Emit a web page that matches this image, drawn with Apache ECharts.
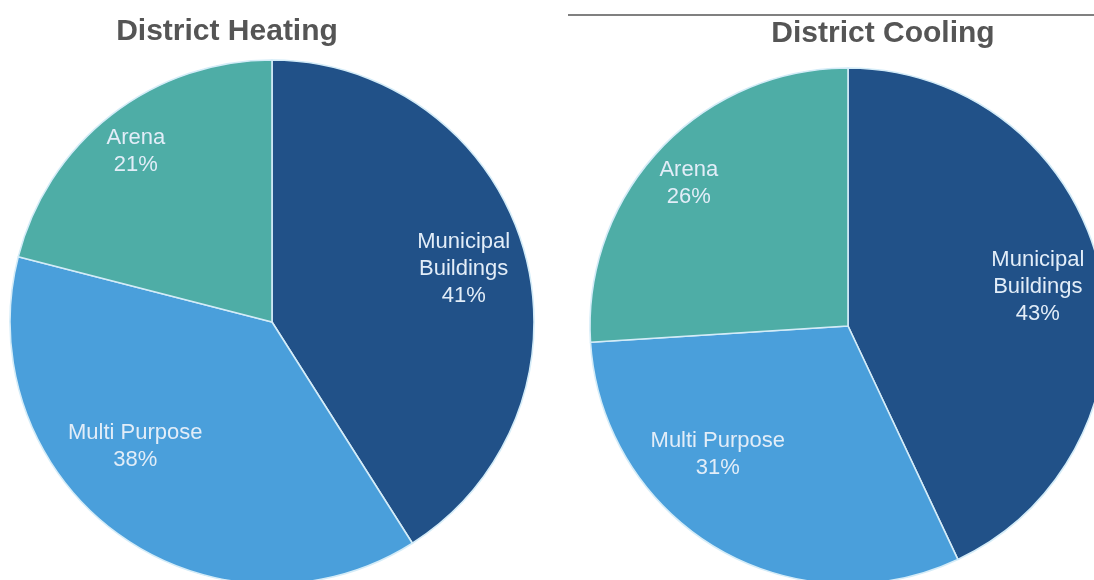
<!DOCTYPE html>
<html>
<head>
<meta charset="utf-8">
<script src="https://cdn.jsdelivr.net/npm/echarts@6/dist/echarts.min.js"></script>
<style>
  html, body { margin: 0; padding: 0; background: #ffffff; }
  #chart { width: 1094px; height: 580px; }
</style>
</head>
<body>
<div id="chart"></div>
<script>
// Energy use split by building type
const categories = ['Municipal Buildings', 'Multi Purpose', 'Arena'];
const labelText = ['Municipal\nBuildings', 'Multi Purpose', 'Arena'];
const heatingShare = [41, 38, 21];
const coolingShare = [43, 31, 26];
const chartTitles = ['District Heating', 'District Cooling'];

const sliceColors = ['#215188', '#4a9fdb', '#4eada6'];

// Nudges that move each label out from the slice midpoint
const heatingLabelShift = [[63, -16], [-58, 16], [-54, -65]];
const coolingLabelShift = [[61, -10], [-63, 15], [-63, -52]];

function toData(values) {
  return values.map((v, i) => ({
    name: categories[i],
    value: v,
    itemStyle: { color: sliceColors[i] }
  }));
}

function pieSeries(values, center, radius, shifts) {
  return {
    type: 'pie',
    center: center,
    radius: radius,
    startAngle: 90,
    clockwise: true,
    animation: false,
    silent: true,
    data: toData(values),
    itemStyle: { borderColor: '#d4ecf8', borderWidth: 1.6 },
    label: {
      show: true,
      position: 'inside',
      formatter: p => labelText[p.dataIndex] + '\n' + p.value + '%',
      color: '#e2edf8',
      fontFamily: 'Liberation Sans, Arial, sans-serif',
      fontSize: 22,
      lineHeight: 27,
      align: 'center'
    },
    labelLine: { show: false },
    labelLayout: p => ({ dx: shifts[p.dataIndex][0], dy: shifts[p.dataIndex][1] })
  };
}

const chart = echarts.init(document.getElementById('chart'), null, { renderer: 'canvas' });
chart.setOption({
  backgroundColor: '#ffffff',
  title: [
    {
      text: chartTitles[0], left: 222, top: 12, textAlign: 'center',
      textStyle: { fontFamily: 'Liberation Sans, Arial, sans-serif', fontWeight: 'bold', fontSize: 30, color: '#555555' }
    },
    {
      text: chartTitles[1], left: 878, top: 14, textAlign: 'center',
      textStyle: { fontFamily: 'Liberation Sans, Arial, sans-serif', fontWeight: 'bold', fontSize: 30, color: '#555555' }
    }
  ],
  graphic: [
    {
      type: 'line',
      shape: { x1: 568, y1: 15, x2: 1094, y2: 15 },
      style: { stroke: '#808080', lineWidth: 2 },
      z: 0
    }
  ],
  series: [
    pieSeries(heatingShare, [272, 322], 262, heatingLabelShift),
    pieSeries(coolingShare, [848, 326], 258, coolingLabelShift)
  ]
});
</script>
</body>
</html>
